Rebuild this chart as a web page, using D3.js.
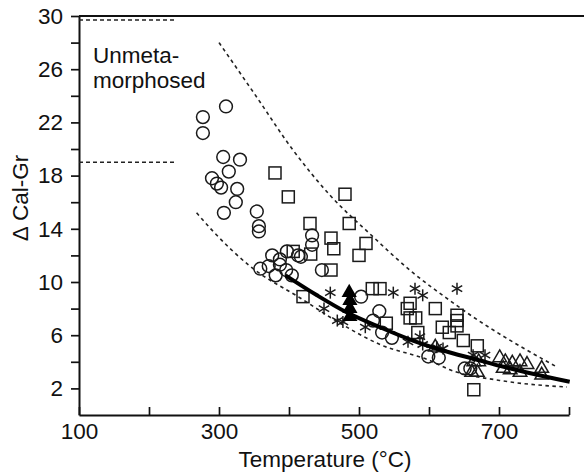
<!DOCTYPE html>
<html><head><meta charset="utf-8">
<script src="https://cdn.jsdelivr.net/npm/d3@7"></script>
<style>
html,body{margin:0;padding:0;background:#fff;}
svg{display:block;font-family:"Liberation Sans",Arial,Helvetica,sans-serif;}
</style></head>
<body>
<svg id="chart" width="584" height="472"></svg>
<script>
// ---- data (Temperature °C, Δ Cal-Gr) ----
const circles = [
 [310,23.2],[277,22.4],[277,21.2],[306,19.4],[330,19.2],[314,18.3],[290,17.8],[297,17.4],
 [303,17.1],[326,17.0],[324,16.0],[307,15.2],[354,15.3],[357,14.2],[357,13.8],[433,13.5],
 [433,12.8],[376,12.0],[387,11.7],[397,12.3],[413,12.0],[417,11.9],[359,11.0],[371,11.2],
 [387,11.3],[381,10.5],[396,10.9],[404,10.5],[447,10.9],[503,8.9],[529,7.8],[520,7.1],
 [533,6.2],[547,5.8],[599,4.4],[614,4.3],[651,3.5],[659,3.5]
];
const squares = [
 [380,18.2],[399,16.4],[480,16.6],[430,14.4],[486,14.4],[460,13.3],[464,12.5],[510,12.9],
 [500,12.0],[431,12.1],[406,12.3],[460,10.9],[420,8.9],[519,9.5],[530,9.5],[573,8.4],
 [569,8.0],[573,7.3],[581,7.3],[609,8.0],[584,6.2],[619,6.6],[629,6.2],[640,7.5],
 [640,7.1],[640,6.7],[649,5.6],[669,5.2],[664,1.9],[539,6.9]
];
const asterisks = [
 [459,9.2],[450,8.0],[469,7.1],[477,7.0],[549,9.2],[580,9.5],[591,9.0],[640,9.5],
 [509,6.6],[570,5.5],[587,5.9],[611,5.1],[620,5.0],[663,4.5],[680,4.5],[591,5.3]
];
const openTriangles = [
 [609,5.1],[664,4.0],[671,4.0],[669,3.2],[661,3.2],[701,4.3],[709,4.0],[719,3.9],
 [730,4.0],[740,3.8],[761,3.5],[761,3.0],[730,3.2],[716,3.4],[706,3.5]
];
const filledTriangles = [[486,9.2],[487,8.6],[487,8.0],[487,7.4]];
const upperEnvelope = [[300,28.0],[350,24.2],[406,19.9],[459,16.5],[516,13.6],[577,10.7],[630,8.6],[654,7.7],[783,3.6]];
const lowerEnvelope = [[268,15.2],[290,13.9],[344,11.2],[416,8.8],[473,6.9],[530,5.3],[601,4.1],[630,3.4],[701,2.6],[797,2.1]];
const fitCurve = [[395,10.5],[440,9.0],[483,7.7],[530,6.6],[577,5.6],[630,4.7],[673,4.1],[701,3.7],[740,3.2],[801,2.5]];
const unmetaRange = [[100,29.7],[237,29.7]];
const unmetaRange2 = [[100,19.0],[237,19.0]];
const xTicks = [100,200,300,400,500,600,700,800];
const xLabels = [100,300,500,700];
const yTicks = [2,4,6,8,10,12,14,16,18,20,22,24,26,28,30];
const yLabels = [2,6,10,14,18,22,26,30];

const FONT = '"Liberation Sans",Arial,Helvetica,sans-serif';
const svg = d3.select("#chart");
const x = d3.scaleLinear().domain([100,800]).range([79,569]);
const y = d3.scaleLinear().domain([0,30]).range([415,16]);

// axes
const gx = svg.append("g").attr("transform",`translate(0,${y(0)})`)
  .call(d3.axisBottom(x).tickValues(xTicks).tickSizeInner(-8).tickSizeOuter(0).tickPadding(8)
    .tickFormat(d => xLabels.includes(d) ? d : ""));
const gy = svg.append("g").attr("transform",`translate(${x(100)},0)`)
  .call(d3.axisLeft(y).tickValues(yTicks).tickSizeInner(8).tickSizeOuter(0).tickPadding(8)
    .tickFormat(d => yLabels.includes(d) ? d : ""));
[gx,gy].forEach(g=>{
  g.selectAll("path.domain").attr("stroke","#111").attr("stroke-width",2);
  g.selectAll(".tick line").attr("stroke","#111").attr("stroke-width",1.7);
  g.selectAll(".tick text").attr("font-size",22.5).attr("fill","#111").attr("font-family",FONT);
});
// top frame line
svg.append("line").attr("x1",x(100)).attr("x2",584).attr("y1",y(30)).attr("y2",y(30))
  .attr("stroke","#111").attr("stroke-width",2);

// axis titles
svg.append("text").attr("x",325).attr("y",467).attr("text-anchor","middle")
  .attr("font-size",22.5).attr("fill","#111").text("Temperature (°C)");
svg.append("text").attr("transform","translate(28,198) rotate(-90)").attr("text-anchor","middle")
  .attr("font-size",22.5).attr("fill","#111").text("Δ Cal-Gr");
svg.append("text").attr("x",93).attr("y",63).attr("font-size",22.5).attr("fill","#111").text("Unmeta-");
svg.append("text").attr("x",93).attr("y",88).attr("font-size",22.5).attr("fill","#111").text("morphosed");

const line = d3.line().x(d=>x(d[0])).y(d=>y(d[1]));
const smooth = d3.line().x(d=>x(d[0])).y(d=>y(d[1])).curve(d3.curveMonotoneX);

[unmetaRange,unmetaRange2].forEach(r=>{
  svg.append("path").attr("d",line(r)).attr("fill","none").attr("stroke","#222")
    .attr("stroke-width",1.4).attr("stroke-dasharray","4,3");
});
[upperEnvelope,lowerEnvelope].forEach(r=>{
  svg.append("path").attr("d",smooth(r)).attr("fill","none").attr("stroke","#222")
    .attr("stroke-width",1.6).attr("stroke-dasharray","3.5,3.5");
});

// markers
const mk = svg.append("g").attr("fill","none").attr("stroke","#1a1a1a").attr("stroke-width",1.5);
mk.selectAll("circle.c").data(circles).join("circle")
  .attr("cx",d=>x(d[0])).attr("cy",d=>y(d[1])).attr("r",6.4).attr("fill","none");
mk.selectAll("rect.s").data(squares).join("rect")
  .attr("x",d=>x(d[0])-6).attr("y",d=>y(d[1])-6).attr("width",12).attr("height",12);
const tri = d3.symbol().type(d3.symbolTriangle).size(80);
mk.selectAll("path.t").data(openTriangles).join("path")
  .attr("d",tri).attr("transform",d=>`translate(${x(d[0])},${y(d[1])})`);
const ast = mk.selectAll("g.a").data(asterisks).join("g")
  .attr("transform",d=>`translate(${x(d[0])},${y(d[1])})`);
[0,60,120].forEach(a=>{
  ast.append("line").attr("x1",0).attr("y1",-6).attr("x2",0).attr("y2",6)
    .attr("transform",`rotate(${a})`);
});

// fitted curve
svg.append("path").attr("d",smooth(fitCurve)).attr("fill","none").attr("stroke","#000")
  .attr("stroke-width",4);

// filled triangles
svg.append("g").selectAll("path").data(filledTriangles).join("path")
  .attr("d",d3.symbol().type(d3.symbolTriangle).size(100))
  .attr("transform",d=>`translate(${x(d[0])},${y(d[1])})`).attr("fill","#000");
</script>
</body></html>
